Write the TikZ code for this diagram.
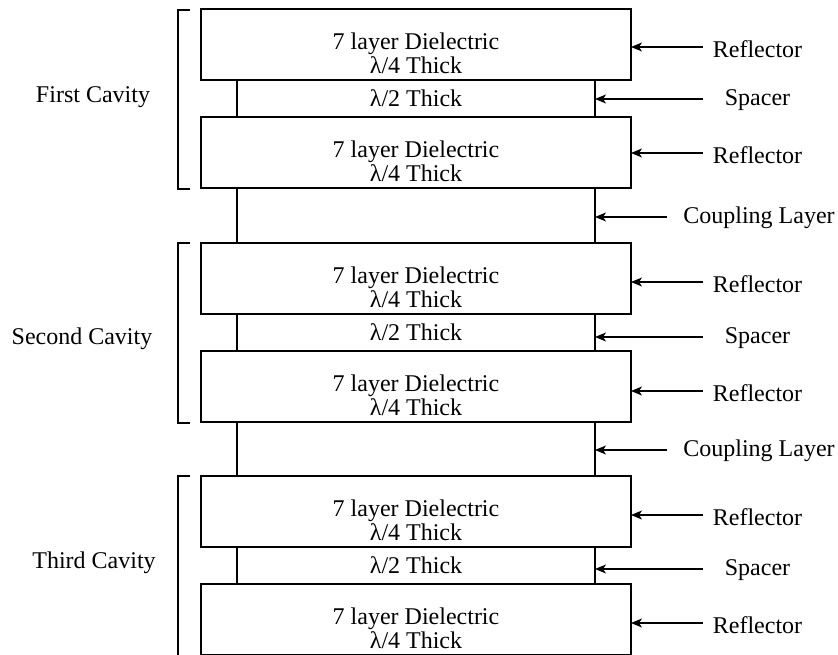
\documentclass[tikz,border=0pt]{standalone}
\usepackage{fontspec}
\setmainfont{Liberation Serif}
\usetikzlibrary{arrows.meta}
\begin{document}
\begin{tikzpicture}[x=1pt,y=-1pt,line width=1.2pt,
  every node/.style={font=\fontsize{24}{24}\selectfont},
  reflbox/.style={draw,fill=white,minimum width=430pt,minimum height=71pt,anchor=north west,inner sep=0pt,outer sep=0pt,
    label={[align=center,yshift=-8.5pt]center:{7 layer Dielectric\\λ/4 Thick}}},
  spacerbox/.style={draw,minimum width=358pt,minimum height=37pt,anchor=north west,inner sep=0pt,outer sep=0pt},
  couplebox/.style={draw,minimum width=358pt,minimum height=#1,anchor=north west,inner sep=0pt,outer sep=0pt},
  lbl/.style={inner sep=0pt},
  arr/.style={-{Stealth[length=11pt,width=9pt,inset=3pt]},line width=1.2pt},
  bracket/.style={line width=1.1pt}
]
\useasboundingbox (0,0) rectangle (838,655);

% layers
\node[spacerbox] (s1) at (237,80) {λ/2 Thick};
\node[couplebox=55pt] (c1) at (237,188) {};
\node[spacerbox] (s2) at (237,314) {λ/2 Thick};
\node[couplebox=54pt] (c2) at (237,422) {};
\node[spacerbox] (s3) at (237,547) {λ/2 Thick};

\node[reflbox] (r1) at (201,9) {};
\node[reflbox] (r2) at (201,117) {};
\node[reflbox] (r3) at (201,243) {};
\node[reflbox] (r4) at (201,351) {};
\node[reflbox] (r5) at (201,476) {};
\node[reflbox] (r6) at (201,584) {};

% brackets
\draw[bracket] (190,10) -- (178,10) -- (178,189) -- (190,189);
\draw[bracket] (190,243) -- (178,243) -- (178,423) -- (190,423);
\draw[bracket] (190,476) -- (178,476) -- (178,656);

\node[lbl] (cav1) at (93,97) {First Cavity};
\node[lbl] (cav2) at (82,339) {Second Cavity};
\node[lbl] (cav3) at (94,563) {Third Cavity};

% right labels
\node[lbl] (L1) at (757.5,49) {Reflector};
\node[lbl] (L2) at (757.5,100) {Spacer};
\node[lbl] (L3) at (757.5,155) {Reflector};
\node[lbl] (L4) at (759,218) {Coupling Layer};
\node[lbl] (L5) at (757.5,284) {Reflector};
\node[lbl] (L6) at (757.5,338) {Spacer};
\node[lbl] (L7) at (757.5,393) {Reflector};
\node[lbl] (L8) at (759,451) {Coupling Layer};
\node[lbl] (L9) at (757.5,517) {Reflector};
\node[lbl] (L10) at (757.5,570) {Spacer};
\node[lbl] (L11) at (757.5,625) {Reflector};

\coordinate (t1) at (703,47);
\coordinate (t2) at (703,99);
\coordinate (t3) at (703,153);
\coordinate (t4) at (667,217);
\coordinate (t5) at (703,282);
\coordinate (t6) at (703,337);
\coordinate (t7) at (703,391);
\coordinate (t8) at (667,450);
\coordinate (t9) at (703,515);
\coordinate (t10) at (703,569);
\coordinate (t11) at (703,623);

\draw[arr] (t1) -- (t1 -| r1.east);
\draw[arr] (t2) -- (t2 -| s1.east);
\draw[arr] (t3) -- (t3 -| r2.east);
\draw[arr] (t4) -- (t4 -| c1.east);
\draw[arr] (t5) -- (t5 -| r3.east);
\draw[arr] (t6) -- (t6 -| s2.east);
\draw[arr] (t7) -- (t7 -| r4.east);
\draw[arr] (t8) -- (t8 -| c2.east);
\draw[arr] (t9) -- (t9 -| r5.east);
\draw[arr] (t10) -- (t10 -| s3.east);
\draw[arr] (t11) -- (t11 -| r6.east);
\end{tikzpicture}
\end{document}
